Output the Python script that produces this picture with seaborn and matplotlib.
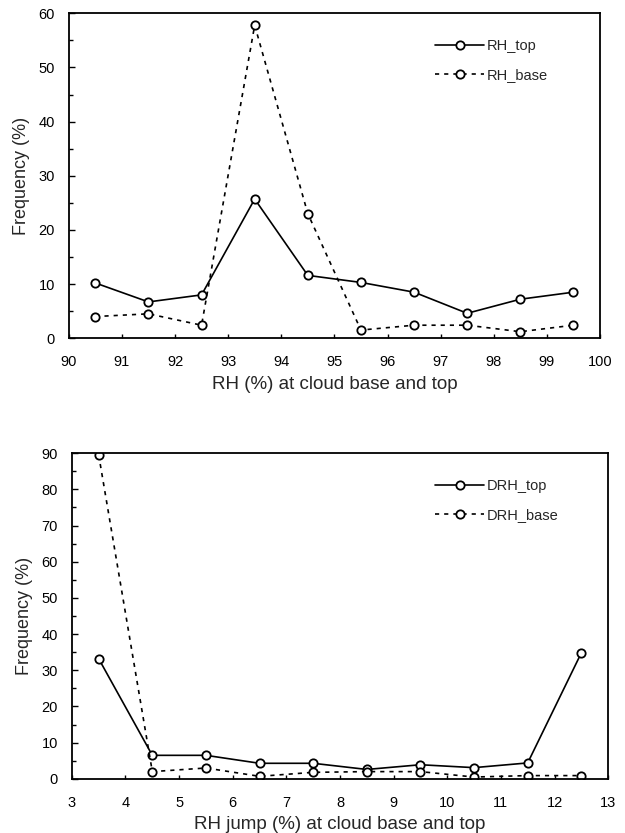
import numpy as np
import pandas as pd
import matplotlib
matplotlib.use("Agg")
import matplotlib.pyplot as plt
import seaborn as sns
from matplotlib.ticker import MultipleLocator

# ---- data ----
rh_x = [90.5, 91.5, 92.5, 93.5, 94.5, 95.5, 96.5, 97.5, 98.5, 99.5]
rh_top = [10.2, 6.7, 8.0, 25.7, 11.6, 10.3, 8.5, 4.6, 7.2, 8.5]
rh_base = [4.0, 4.5, 2.4, 57.8, 23.0, 1.5, 2.4, 2.4, 1.2, 2.4]

drh_x = [3.5, 4.5, 5.5, 6.5, 7.5, 8.5, 9.5, 10.5, 11.5, 12.5]
drh_top = [33.2, 6.5, 6.5, 4.3, 4.3, 2.6, 3.9, 3.1, 4.4, 34.8]
drh_base = [89.5, 2.0, 3.0, 0.7, 1.8, 2.0, 2.0, 0.5, 0.9, 0.9]

top_names = ["RH_top", "RH_base"]
bot_names = ["DRH_top", "DRH_base"]

sns.set_theme(style="ticks")
plt.rcParams['font.family'] = ['Liberation Sans', 'DejaVu Sans']

fig = plt.figure(figsize=(6.25, 8.33), dpi=100)
ax1 = fig.add_axes([0.110, 0.594, 0.850, 0.390])
ax2 = fig.add_axes([0.115, 0.065, 0.858, 0.391])


def draw(ax, x, top, base, names, xlim, ylim, xlabel, ymajor, leg_x):
    df = pd.DataFrame({
        "x": list(x) + list(x),
        "y": list(top) + list(base),
        "series": [names[0]] * len(x) + [names[1]] * len(x),
    })
    sns.lineplot(data=df, x="x", y="y", style="series", ax=ax,
                 color="black", linewidth=1.2,
                 dashes={names[0]: "", names[1]: (2.5, 3)},
                 markers={names[0]: "o", names[1]: "o"},
                 markersize=6, markerfacecolor="white",
                 markeredgecolor="black", markeredgewidth=1.3)
    ax.set_xlim(*xlim)
    ax.set_ylim(*ylim)
    ax.xaxis.set_major_locator(MultipleLocator(1))
    ax.yaxis.set_major_locator(MultipleLocator(ymajor))
    ax.yaxis.set_minor_locator(MultipleLocator(5))
    ax.tick_params(axis="both", which="both", direction="in", top=False, right=False,
                   labelsize=10.5, colors="black")
    ax.tick_params(axis="y", which="major", length=4, width=1, pad=10)
    ax.tick_params(axis="x", which="major", length=3, width=1, pad=12)
    ax.tick_params(which="minor", length=3, width=1)
    for s in ax.spines.values():
        s.set_linewidth(1.3)
        s.set_color("black")
    ax.set_xlabel(xlabel, fontsize=13.5, labelpad=5)
    ax.set_ylabel("Frequency (%)", fontsize=13, labelpad=6)
    leg = ax.legend(loc="upper left", frameon=False, fontsize=10.5,
                    handlelength=3.4, handletextpad=0.15,
                    borderpad=0, borderaxespad=0,
                    bbox_to_anchor=(leg_x, 0.92), labelspacing=1.0)
    for h in leg.legend_handles:
        h.set_color("black")
        h.set_markerfacecolor("white")
        h.set_markeredgecolor("black")


draw(ax1, rh_x, rh_top, rh_base, top_names, (90, 100), (0, 60),
     "RH (%) at cloud base and top", 10, 0.689)
draw(ax2, drh_x, drh_top, drh_base, bot_names, (3, 13), (0, 90),
     "RH jump (%) at cloud base and top", 10, 0.677)

fig.savefig("out.png", dpi=100, facecolor="white")
